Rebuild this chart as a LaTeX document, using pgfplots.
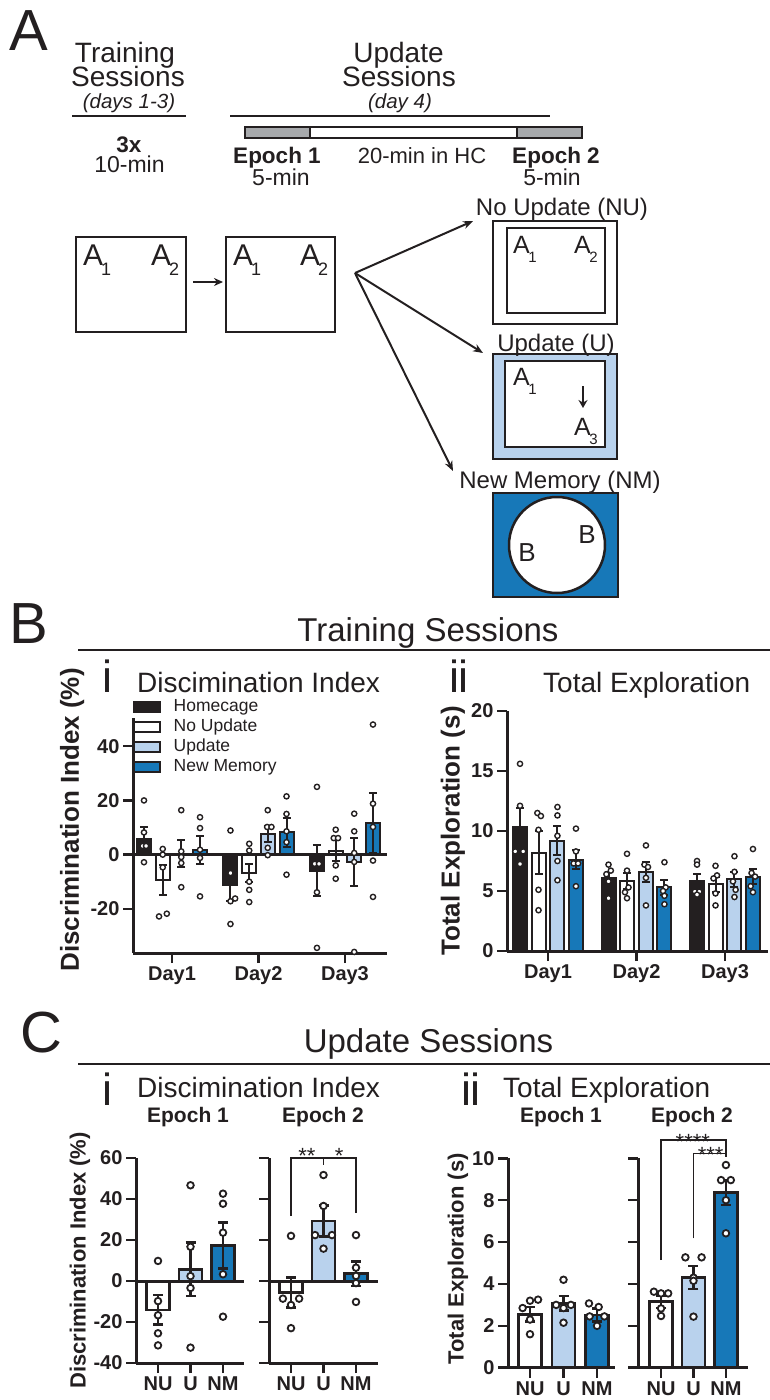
\documentclass[border=0pt]{standalone}
\usepackage{fontspec}
\setmainfont{Liberation Sans}
\usepackage{pgfplots}
\pgfplotsset{compat=1.18}
\usetikzlibrary{arrows.meta}

\definecolor{ink}{HTML}{231F20}
\definecolor{upd}{HTML}{B9D2ED}
\definecolor{nmem}{HTML}{1778B8}
\definecolor{tgray}{HTML}{A7A9AC}

\newcommand{\fs}[1]{\fontsize{#1}{#1}\selectfont}
% A with subscript, big and small boxes
\newcommand{\Asub}[1]{\fs{30}A\kern-2pt\raisebox{-10pt}{\fs{18}#1}}
\newcommand{\Asubs}[1]{\fs{25}A\kern-1.5pt\raisebox{-9pt}{\fs{15}#1}}

\pgfplotsset{
  prism/.style={
    scale only axis, anchor=south west, clip=false,
    axis lines*=left,
    axis line style={line width=3pt, draw=ink},
    tick style={line width=2.5pt, draw=ink},
    tick align=outside, major tick length=10pt,
    xtick={1,2,3},
    tick label style={font=\fs{20}\bfseries, text=ink},
    label style={font=\fs{26}\bfseries, text=ink},
  },
  errs/.style n args={2}{
    error bars/y dir=both, error bars/y explicit,
    error bars/error bar style={line width=#1, draw=ink},
    error bars/error mark options={rotate=90, mark size=#2, line width=#1, draw=ink},
  },
  Bbar/.style={ybar, bar width=14pt, bar shift=0pt, draw=ink, line width=2pt,
    forget plot, errs={2pt}{4pt}},
  Cbar/.style={ybar, bar width=23pt, bar shift=0pt, draw=ink, line width=2.8pt,
    forget plot, errs={2.6pt}{5pt}},
  Bdots/.style={only marks, mark=*, mark size=2.6pt, forget plot,
    mark options={fill=white, draw=ink, line width=1.4pt}},
  Cdots/.style={only marks, mark=*, mark size=3.3pt, forget plot,
    mark options={fill=white, draw=ink, line width=1.8pt}},
  zeroline/.style={line width=3pt, draw=ink, forget plot},
}

\begin{document}
\begin{tikzpicture}
\path[use as bounding box] (0,0) rectangle (770pt,-1400pt);

% ---------------- text and schematic ----------------
\begin{scope}[x=1pt, y=-1pt, every node/.style={inner sep=0pt, text=ink}]
\node[anchor=base] at (29,50) {\fs{58}A};
\node[anchor=base] at (29,643) {\fs{58}B};
\node[anchor=base] at (41,1052) {\fs{58}C};

\node[anchor=base] at (125,62) {\fs{28}Training};
\node[anchor=base] at (128,86) {\fs{28}Sessions};
\node[anchor=base] at (129,108) {\fs{20.5}\itshape (days 1-3)};
\draw[ink, line width=1.7pt] (72,116) -- (186,116);
\node[anchor=base] at (129,152) {\fs{22.5}\bfseries 3x};
\node[anchor=base] at (129.5,172) {\fs{23}10-min};

\node[anchor=base] at (398.5,62) {\fs{28}Update};
\node[anchor=base] at (399,86) {\fs{28}Sessions};
\node[anchor=base] at (400,108) {\fs{20.5}\itshape (day 4)};
\draw[ink, line width=1.7pt] (230,116) -- (550,116);
\draw[ink, line width=1.2pt, fill=tgray] (245,127) rectangle (310,138);
\draw[ink, line width=1.2pt, fill=white] (310,127) rectangle (517,138);
\draw[ink, line width=1.2pt, fill=tgray] (517,127) rectangle (582,138);
\node[anchor=base] at (277,163) {\fs{22.5}\bfseries Epoch 1};
\node[anchor=base] at (281,185) {\fs{23}5-min};
\node[anchor=base] at (422,163) {\fs{22}20-min in HC};
\node[anchor=base] at (556,163) {\fs{22.5}\bfseries Epoch 2};
\node[anchor=base] at (552,185) {\fs{23}5-min};

\draw[ink, line width=2.5pt] (76,237) rectangle (186,332);
\node[anchor=base west] at (83,265) {\Asub{1}};
\node[anchor=base west] at (151,265) {\Asub{2}};
\draw[ink, line width=2pt, -{Stealth[length=9pt,width=8pt]}] (193,282) -- (223,282);
\draw[ink, line width=2.5pt] (226,237) rectangle (335,332);
\node[anchor=base west] at (233,265) {\Asub{1}};
\node[anchor=base west] at (300,265) {\Asub{2}};

\draw[ink, line width=2pt, -{Stealth[length=10pt,width=8pt]}] (355,273) -- (473,221);
\draw[ink, line width=2pt, -{Stealth[length=10pt,width=8pt]}] (355,273) -- (483,353);
\draw[ink, line width=2pt, -{Stealth[length=10pt,width=8pt]}] (355,273) -- (453,471);

\node[anchor=base] at (562,215) {\fs{24}No Update (NU)};
\draw[ink, line width=1.5pt] (493,221) rectangle (617,324);
\draw[ink, line width=2.5pt] (507,228) rectangle (605,313);
\node[anchor=base west] at (513,253) {\Asubs{1}};
\node[anchor=base west] at (574,253) {\Asubs{2}};

\draw[ink, line width=1.5pt, fill=upd] (493,354) rectangle (617,459);
\draw[ink, line width=2.5pt, fill=white] (505,361) rectangle (605,447);
\node[anchor=base] at (556,351) {\fs{24}Update (U)};
\node[anchor=base west] at (513,385) {\Asubs{1}};
\draw[ink, line width=2pt, -{Stealth[length=8pt,width=9pt]}] (583,386) -- (583,408);
\node[anchor=base west] at (574,435) {\Asubs{3}};

\draw[ink, line width=1.5pt, fill=nmem] (493,493) rectangle (618,597);
\draw[ink, line width=2.5pt, fill=white] (557,545) circle[radius=48pt];
\node[anchor=base] at (560,488) {\fs{24}New Memory (NM)};
\node at (527,553) {\fs{26}B};
\node at (587,535) {\fs{26}B};

\node[anchor=base] at (428,641) {\fs{33}Training Sessions};
\draw[ink, line width=2pt] (78,650) -- (770,650);
\node[anchor=base] at (107,692) {\fs{45}i};
\node[anchor=base west] at (137,692) {\fs{28}Discimination Index};
\node[anchor=base] at (459,692) {\fs{45}ii};
\node[anchor=base west] at (543,692) {\fs{28}Total Exploration};

\node[anchor=base] at (428.5,1052) {\fs{33}Update Sessions};
\draw[ink, line width=2pt] (78,1064) -- (770,1064);
\node[anchor=base] at (107,1105) {\fs{45}i};
\node[anchor=base west] at (137,1097) {\fs{28}Discimination Index};
\node[anchor=base] at (471,1105) {\fs{45}ii};
\node[anchor=base west] at (503,1097) {\fs{28}Total Exploration};
\node[anchor=base] at (188,1122) {\fs{21}\bfseries Epoch 1};
\node[anchor=base] at (323,1122) {\fs{21}\bfseries Epoch 2};
\node[anchor=base] at (561,1122) {\fs{21}\bfseries Epoch 1};
\node[anchor=base] at (692,1122) {\fs{21}\bfseries Epoch 2};
\end{scope}

% ---------------- B i: discrimination index, training ----------------
\begin{axis}[prism, at={(133pt,-953pt)}, width=254pt, height=235pt,
  xmin=0.549, xmax=3.486, ymin=-36.3, ymax=50.4,
  xticklabels={Day1,Day2,Day3},
  ytick={-20,0,20,40}, yticklabels={-20,0,20,40},
  ylabel={Discrimination Index (\%)},
  ylabel style={at={(axis description cs:-0.24,0.566)}, anchor=center},
  legend style={at={(axis description cs:0.0,1.09)}, anchor=north west,
    draw=none, fill=none, inner sep=0pt, font=\fs{17.5}, text=ink,
    row sep=0pt, nodes={inner ysep=2pt, text height=12.5pt, text depth=3.5pt},
    /tikz/every odd column/.append style={column sep=11pt}},
  legend cell align=left]
\addlegendimage{legend image code/.code={\draw[fill=ink, draw=ink, line width=1.5pt] (0pt,-5pt) rectangle (26pt,5pt);}}
\addlegendentry{Homecage}
\addlegendimage{legend image code/.code={\draw[fill=white, draw=ink, line width=1.5pt] (0pt,-5pt) rectangle (26pt,5pt);}}
\addlegendentry{No Update}
\addlegendimage{legend image code/.code={\draw[fill=upd, draw=ink, line width=1.5pt] (0pt,-5pt) rectangle (26pt,5pt);}}
\addlegendentry{Update}
\addlegendimage{legend image code/.code={\draw[fill=nmem, draw=ink, line width=1.5pt] (0pt,-5pt) rectangle (26pt,5pt);}}
\addlegendentry{New Memory}
\addplot[Bbar, fill=ink] coordinates {(0.676,5.9) +- (0,4.2) (1.676,-11.3) +- (0,5.9) (2.676,-5.9) +- (0,9.4)};
\addplot[Bbar, fill=white] coordinates {(0.893,-9.3) +- (0,5.5) (1.893,-6.8) +- (0,3.2) (2.893,1.5) +- (0,3.8)};
\addplot[Bbar, fill=upd] coordinates {(1.107,0.4) +- (0,4.9) (2.107,7.7) +- (0,3.0) (3.107,-2.8) +- (0,8.8)};
\addplot[Bbar, fill=nmem] coordinates {(1.324,1.7) +- (0,5.1) (2.324,8.2) +- (0,5.3) (3.324,11.7) +- (0,11)};
\addplot[zeroline] coordinates {(0.549,0) (3.486,0)};
\addplot[Bdots] coordinates {
 (0.676,20) (0.676,8.2) (0.66,3.2) (0.70,3.2) (0.676,-2.8)
 (0.893,2.1) (0.893,0) (0.893,-4.7) (0.85,-22.8) (0.94,-21.8)
 (1.107,16.4) (1.107,1.2) (1.107,-0.9) (1.107,-3.1) (1.107,-12)
 (1.324,13.8) (1.324,9.8) (1.324,1.8) (1.324,-1.2) (1.324,-15.4)
 (1.676,8.9) (1.676,-6.8) (1.676,-17.2) (1.73,-16.2) (1.676,-25.6)
 (1.893,4) (1.893,1.5) (1.893,-10) (1.893,-13) (1.893,-17.5)
 (2.107,16.4) (2.10,10.2) (2.15,10.2) (2.107,2.5) (2.107,-0.2)
 (2.324,21.5) (2.324,15) (2.324,8.6) (2.324,4.6) (2.324,-7.4)
 (2.676,25) (2.65,-3.4) (2.70,-3.4) (2.676,-13.9) (2.676,-34.4)
 (2.893,9.2) (2.87,6.1) (2.92,6.1) (2.893,-4) (2.893,-8.9)
 (3.107,15.1) (3.107,8.6) (3.107,0.6) (3.107,-2.7) (3.107,-35.9)
 (3.324,48) (3.324,18.8) (3.324,10.2) (3.324,-2.2) (3.324,-15.6)};
\end{axis}

% ---------------- B ii: total exploration, training ----------------
\begin{axis}[prism, at={(507pt,-951pt)}, width=261pt, height=240pt,
  xmin=0.537, xmax=3.486, ymin=0, ymax=20,
  xticklabels={Day1,Day2,Day3},
  ytick={0,5,10,15,20}, yticklabels={0,5,10,15,20},
  ylabel={Total Exploration (s)},
  ylabel style={at={(axis description cs:-0.207,0.5)}, anchor=center}]
\addplot[Bbar, fill=ink] coordinates {(0.684,10.3) +- (0,1.6) (1.684,6.05) +- (0,0.55) (2.684,5.8) +- (0,0.65)};
\addplot[Bbar, fill=white] coordinates {(0.893,8.2) +- (0,1.8) (1.893,5.85) +- (0,0.65) (2.893,5.55) +- (0,0.6)};
\addplot[Bbar, fill=upd] coordinates {(1.107,9.2) +- (0,1.2) (2.107,6.6) +- (0,0.85) (3.107,5.97) +- (0,0.6)};
\addplot[Bbar, fill=nmem] coordinates {(1.316,7.6) +- (0,0.8) (2.316,5.3) +- (0,0.6) (3.316,6.2) +- (0,0.6)};
\addplot[Bdots] coordinates {
 (0.684,15.6) (0.684,12.1) (0.63,8.3) (0.72,8.3) (0.684,7.25)
 (0.88,11.5) (0.92,11.25) (0.893,10.1) (0.893,5.1) (0.893,3.4)
 (1.107,12.0) (1.107,11.3) (1.107,9.6) (1.107,7.5) (1.107,5.9)
 (1.316,10.2) (1.316,8.3) (1.29,7.3) (1.34,7.3) (1.316,5.4)
 (1.684,7.2) (1.71,6.7) (1.66,6.4) (1.684,5.8) (1.684,4.4)
 (1.893,8.1) (1.893,6.7) (1.91,5.3) (1.87,4.9) (1.893,4.4)
 (2.107,8.8) (2.09,7.2) (2.13,7.0) (2.107,6.1) (2.107,3.8)
 (2.316,7.4) (2.33,5.3) (2.30,5.0) (2.316,4.6) (2.316,3.9)
 (2.684,7.5) (2.684,7.2) (2.66,4.95) (2.71,4.95) (2.684,4.7)
 (2.893,7.1) (2.91,6.3) (2.87,6.05) (2.893,4.8) (2.893,3.8)
 (3.107,7.9) (3.107,6.6) (3.09,5.8) (3.12,5.1) (3.107,4.5)
 (3.316,8.5) (3.30,6.5) (3.34,6.2) (3.29,5.4) (3.316,4.9)};
\end{axis}

% ---------------- C i: discrimination index, update, epoch 1 ----------------
\begin{axis}[prism, at={(136pt,-1363pt)}, width=108pt, height=205pt,
  xmin=0.323, xmax=3.646, ymin=-40, ymax=60,
  xticklabels={NU,U,NM},
  ytick={-40,-20,0,20,40,60}, yticklabels={-40,-20,0,20,40,60},
  ylabel={Discrimination Index (\%)}, label style={font=\fs{22}\bfseries},
  ylabel style={at={(axis description cs:-0.52,0.5)}, anchor=center}]
\addplot[Cbar, fill=white] coordinates {(1,-14.1) +- (0,7.2)};
\addplot[Cbar, fill=upd] coordinates {(2,5.7) +- (0,13)};
\addplot[Cbar, fill=nmem] coordinates {(3,17.4) +- (0,11.2)};
\addplot[zeroline] coordinates {(0.323,0) (3.646,0)};
\addplot[Cdots] coordinates {
 (1,9.8) (1,-9.8) (1,-16.7) (1,-25.5) (1,-31.4)
 (2,46.7) (2,16.7) (2,2.4) (2,-3.4) (2,-32.5)
 (3,42.6) (3,37.7) (3,23.6) (3,3.3) (3,-17.4)};
\end{axis}

% ---------------- C i: epoch 2 ----------------
\begin{axis}[prism, at={(269pt,-1363pt)}, width=109pt, height=205pt,
  xmin=0.323, xmax=3.677, ymin=-40, ymax=60,
  xticklabels={NU,U,NM},
  ytick={-40,-20,0,20,40,60}, yticklabels={}]
\addplot[Cbar, fill=white] coordinates {(1,-5.7) +- (0,7.3)};
\addplot[Cbar, fill=upd] coordinates {(2,29.3) +- (0,7.5)};
\addplot[Cbar, fill=nmem] coordinates {(3,3.6) +- (0,6)};
\addplot[zeroline] coordinates {(0.323,0) (3.677,0)};
\addplot[Cdots] coordinates {
 (1,22) (0.75,-8.6) (1.25,-8.6) (1,-11.7) (1,-23)
 (2,51.7) (2,36.6) (1.74,22.4) (2.26,22.4) (2,15.8)
 (3,22.4) (3,6.5) (3,2.5) (3,-1.0) (3,-10.2)};
\draw[ink, line width=1.3pt] (axis cs:1,31.7) -- (axis cs:1,60) -- (axis cs:3,60) -- (axis cs:3,33);
\draw[ink, line width=1.3pt] (axis cs:2,60) -- (axis cs:2,56.4);
\node[anchor=base, inner sep=0pt, text=ink, font=\fs{22}] at (axis cs:1.49,57.4) {**};
\node[anchor=base, inner sep=0pt, text=ink, font=\fs{22}] at (axis cs:2.48,57.4) {*};
\end{axis}

% ---------------- C ii: total exploration, update, epoch 1 ----------------
\begin{axis}[prism, at={(508pt,-1367.7pt)}, width=107pt, height=209.4pt,
  xmin=0.343, xmax=3.537, ymin=0, ymax=10,
  xticklabels={NU,U,NM},
  ytick={0,2,4,6,8,10}, yticklabels={0,2,4,6,8,10},
  ylabel={Total Exploration (s)}, label style={font=\fs{22}\bfseries},
  ylabel style={at={(axis description cs:-0.467,0.52)}, anchor=center}]
\addplot[Cbar, fill=white] coordinates {(1,2.55) +- (0,0.35)};
\addplot[Cbar, fill=upd] coordinates {(2,3.07) +- (0,0.35)};
\addplot[Cbar, fill=nmem] coordinates {(3,2.52) +- (0,0.3)};
\addplot[Cdots] coordinates {
 (1,3.2) (1.24,3.25) (0.78,2.85) (1,2.3) (1,1.6)
 (2,4.2) (1.78,3.0) (2.22,3.0) (2,2.85) (2,2.15)
 (2.76,3.07) (3.05,2.9) (2.78,2.45) (3.22,2.45) (3,2.0)};
\end{axis}

% ---------------- C ii: epoch 2 ----------------
\begin{axis}[prism, at={(638pt,-1367.7pt)}, width=110pt, height=209.4pt,
  xmin=0.29, xmax=3.68, ymin=0, ymax=10,
  xticklabels={NU,U,NM},
  ytick={0,2,4,6,8,10}, yticklabels={}]
\addplot[Cbar, fill=white] coordinates {(1,3.15) +- (0,0.3)};
\addplot[Cbar, fill=upd] coordinates {(2,4.3) +- (0,0.55)};
\addplot[Cbar, fill=nmem] coordinates {(3,8.36) +- (0,0.58)};
\addplot[Cdots] coordinates {
 (0.78,3.63) (1,3.55) (1.22,3.55) (1,2.83) (1,2.47)
 (1.75,5.27) (2.25,5.27) (2,4.3) (2,4.15) (2,2.44)
 (3,9.68) (2.85,8.96) (3.15,8.96) (3,8.0) (3,6.42)};
\draw[ink, line width=1.3pt] (axis cs:1,5.14) -- (axis cs:1,10.88) -- (axis cs:3,10.88) -- (axis cs:3,10.05);
\draw[ink, line width=1.3pt] (axis cs:2,6.18) -- (axis cs:2,10.24) -- (axis cs:3,10.24);
\node[anchor=base, inner sep=0pt, text=ink, font=\fs{22}] at (axis cs:1.98,10.42) {****};
\node[anchor=base, inner sep=0pt, text=ink, font=\fs{22}] at (axis cs:2.53,9.82) {***};
\end{axis}
\end{tikzpicture}
\end{document}
